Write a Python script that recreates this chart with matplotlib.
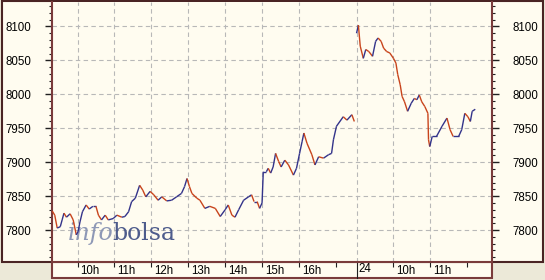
import matplotlib
matplotlib.use("Agg")
import matplotlib.pyplot as plt
import numpy as np
from matplotlib.collections import LineCollection
from matplotlib.patches import Rectangle
from matplotlib.transforms import ScaledTranslation, blended_transform_factory

W, H = 545, 280

# intraday quotes, day 1
day1_times = ["09:19", "09:23", "09:27", "09:32", "09:35", "09:38", "09:42", "09:48",
              "09:53", "09:58", "10:01", "10:04", "10:08", "10:14", "10:19", "10:25",
              "10:30", "10:34", "10:39", "10:45", "10:50", "10:58", "11:04", "11:12",
              "11:17", "11:23", "11:28", "11:34", "11:41", "11:46", "11:51", "11:58",
              "12:04", "12:11", "12:17", "12:25", "12:33", "12:41", "12:49", "12:54",
              "12:58", "13:02", "13:06", "13:14", "13:19", "13:27", "13:35", "13:44",
              "13:52", "14:00", "14:05", "14:11", "14:16", "14:22", "14:30", "14:38",
              "14:43", "14:47", "14:52", "14:56", "15:00", "15:02", "15:07", "15:10",
              "15:14", "15:18", "15:22", "15:27", "15:31", "15:37", "15:43", "15:51",
              "15:56", "16:01", "16:05", "16:08", "16:13", "16:21", "16:26", "16:32",
              "16:40", "16:48", "16:53", "16:56", "17:01", "17:12", "17:18", "17:26",
              "17:30"]
day1_values = [7828, 7822, 7803, 7805, 7815, 7825, 7819, 7824,
               7815, 7793, 7798, 7812, 7827, 7837, 7831, 7835,
               7835, 7822, 7815, 7822, 7815, 7817, 7822, 7819,
               7820, 7827, 7842, 7847, 7866, 7859, 7849, 7857,
               7852, 7844, 7849, 7843, 7844, 7849, 7854, 7864,
               7876, 7864, 7854, 7847, 7844, 7832, 7835, 7832,
               7820, 7830, 7837, 7822, 7819, 7830, 7844, 7849,
               7852, 7842, 7842, 7832, 7840, 7886, 7886, 7891,
               7884, 7893, 7913, 7901, 7893, 7903, 7896, 7881,
               7891, 7913, 7930, 7943, 7928, 7911, 7896, 7908,
               7906, 7911, 7913, 7933, 7953, 7967, 7962, 7970,
               7960]

# day 2 ("24")
day2_times = ["09:00", "09:03", "09:06", "09:11", "09:15", "09:20", "09:26", "09:31",
              "09:35", "09:40", "09:44", "09:49", "09:54", "10:00", "10:04", "10:07",
              "10:11", "10:14", "10:18", "10:23", "10:29", "10:34", "10:38", "10:42",
              "10:46", "10:51", "10:56", "10:57", "10:59", "11:03", "11:10", "11:19",
              "11:27", "11:32", "11:37", "11:46", "11:51", "11:56", "12:01", "12:05",
              "12:08", "12:13"]
day2_values = [8090, 8102, 8071, 8053, 8066, 8063, 8056, 8078,
               8083, 8078, 8068, 8063, 8061, 8053, 8046, 8029,
               8014, 7997, 7989, 7975, 7987, 7994, 7992, 7999,
               7989, 7982, 7972, 7933, 7923, 7938, 7938, 7953,
               7965, 7948, 7938, 7938, 7948, 7972, 7967, 7960,
               7975, 7978]

y_ticks = [7800, 7850, 7900, 7950, 8000, 8050, 8100]
day1_tick_hours = [10, 11, 12, 13, 14, 15, 16, 17]
day1_tick_labels = ["10h", "11h", "12h", "13h", "14h", "15h", "16h", ""]
day2_tick_hours = [10, 11, 12]
day2_tick_labels = ["10h", "11h", ""]
day2_label = "24"

DAY2_OFFSET = 8.56
CREAM = "#fffcf0"
GREY = "#ece9d8"
BORDER = "#7a3b3b"
UP = "#33338a"
DOWN = "#c8441c"
FONT = "Liberation Sans"


def to_x(t, day):
    h, m = map(int, t.split(":"))
    x = h + m / 60 - 9
    return x + DAY2_OFFSET if day == 2 else x


def px_rect(x0, y0, x1, y1, **kw):
    return Rectangle((x0 / W, 1 - y1 / H), (x1 - x0) / W, (y1 - y0) / H,
                     transform=fig.transFigure, zorder=-5, **kw)


fig = plt.figure(figsize=(W / 100, H / 100), dpi=100, facecolor=GREY)
fig.patches.append(px_rect(2, 0.5, 543, 262, facecolor=CREAM, edgecolor="#4a2424", lw=1.5))
fig.patches.append(px_rect(52, 262, 492, 277.5, facecolor=CREAM, edgecolor=BORDER, lw=1.5))

ax = fig.add_axes([52 / W, 18 / H, 440 / W, 260 / H], facecolor=CREAM)
ax.set_xlim(0.309, 12.23)
ax.set_ylim(7753, 8136)

# grid
for y in y_ticks:
    ax.axhline(y, color="#b8b8b8", lw=0.8, ls=(0, (4, 3)), zorder=1)
grid_x = [h - 9 for h in day1_tick_hours[:-1]] + [DAY2_OFFSET] + \
         [DAY2_OFFSET + h - 9 for h in day2_tick_hours[:-1]]
for x in grid_x:
    ax.axvline(x, color="#b8b8b8", lw=0.8, ls=(0, (4, 3)), zorder=1)

# watermark
ax.text(0.036, 0.085, "info", transform=ax.transAxes, fontsize=17,
        family="DejaVu Serif", style="italic", color="#8e98b6", zorder=2)
ax.text(0.137, 0.085, "bolsa", transform=ax.transAxes, fontsize=17,
        family="DejaVu Serif", color="#4e5c8c", zorder=2)

# price line, blue when rising, red when falling
for day, times, vals in [(1, day1_times, day1_values), (2, day2_times, day2_values)]:
    xs = np.array([to_x(t, day) for t in times])
    ys = np.array(vals, dtype=float)
    segs = np.stack([np.column_stack([xs[:-1], ys[:-1]]),
                     np.column_stack([xs[1:], ys[1:]])], axis=1)
    cols = [UP if d >= 0 else DOWN for d in np.diff(ys)]
    ax.add_collection(LineCollection(segs, colors=cols, lw=1.0, zorder=3))

# y axis on both sides
ax.set_yticks(y_ticks)
ax.set_yticks(np.arange(7760, 8140, 10), minor=True)
ax.tick_params(axis="y", which="major", direction="out", length=5, width=1,
               color="#202020", left=True, right=True, labelleft=True, labelright=True,
               pad=10, labelsize=8.3)
ax.tick_params(axis="y", which="minor", direction="out", length=2.2, width=0.8,
               color="#202020", left=True, right=True)
for lab in ax.get_yticklabels():
    lab.set_family(FONT)

# x axis with labels to the right of each tick
xt = [h - 9 for h in day1_tick_hours] + [DAY2_OFFSET + h - 9 for h in day2_tick_hours]
ax.set_xticks(xt)
ax.set_xticklabels(day1_tick_labels + day2_tick_labels, family=FONT, fontsize=8.3)
ax.tick_params(axis="x", direction="out", length=3.5, width=0.8, color="#202020", pad=-1)
shift = ScaledTranslation(0.03, 0, fig.dpi_scale_trans)
for lab in ax.get_xticklabels():
    lab.set_ha("left")
    lab.set_transform(lab.get_transform() + shift)

trans = blended_transform_factory(ax.transData, ax.transAxes)
ax.plot([DAY2_OFFSET, DAY2_OFFSET], [0, -15.5 / 260], transform=trans, color="#202020",
        lw=0.8, clip_on=False)
ax.text(DAY2_OFFSET, -1.3 / 260, day2_label,
        transform=trans + ScaledTranslation(0.02, 0, fig.dpi_scale_trans),
        ha="left", va="top", family=FONT, fontsize=8.3)

for side in ["left", "right", "bottom"]:
    ax.spines[side].set_color(BORDER)
    ax.spines[side].set_linewidth(1.5)
ax.spines["top"].set_visible(False)

fig.savefig("out.png", dpi=100, facecolor=GREY)
